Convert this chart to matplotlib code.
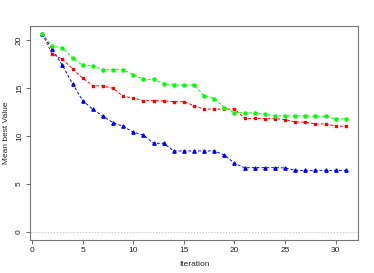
import numpy as np
import matplotlib.pyplot as plt

plt.rcParams['font.family'] = ['Liberation Sans', 'DejaVu Sans']

iteration = np.arange(1, 32)

blue = [20.65, 19.03, 17.36, 15.45, 13.68, 12.78, 12.05, 11.39, 11.0, 10.4,
        10.1, 9.24, 9.24, 8.44, 8.44, 8.44, 8.44, 8.44, 8.02, 7.15,
        6.7, 6.7, 6.7, 6.7, 6.68, 6.42, 6.42, 6.42, 6.42, 6.42, 6.42]
red = [20.65, 18.54, 17.99, 17.0, 16.04, 15.24, 15.2, 14.97, 14.13, 13.96,
       13.68, 13.68, 13.65, 13.57, 13.57, 13.16, 12.8, 12.8, 12.8, 12.8,
       11.84, 11.82, 11.8, 11.8, 11.7, 11.46, 11.43, 11.25, 11.25, 11.04, 11.0]
green = [20.65, 19.34, 19.2, 18.1, 17.36, 17.3, 16.9, 16.9, 16.9, 16.4,
         15.9, 15.9, 15.45, 15.3, 15.3, 15.3, 14.2, 13.9, 12.95, 12.43,
         12.43, 12.4, 12.26, 12.1, 12.1, 12.1, 12.1, 12.05, 12.05, 11.77, 11.77]

fig = plt.figure(figsize=(3.74, 2.73), dpi=100)
ax = fig.add_axes([30 / 374, 33 / 273, 328 / 374, 214 / 273])

# zero reference line
ax.axhline(0, color='#bbbbbb', lw=0.6, ls=(0, (1.5, 2)))

ax.plot(iteration, blue, color='#0000ff', ls=(0, (3, 2)), lw=0.7,
        marker='^', markersize=2.4)
ax.plot(iteration, red, color='#ff0000', ls=(0, (3, 2)), lw=0.7,
        marker='s', markersize=2.0)
ax.plot(iteration, green, color='#00ff00', ls=(0, (3, 2)), lw=0.7,
        marker='o', markersize=2.2)

ax.set_xlim(-0.2, 32.2)
ax.set_ylim(-0.83, 21.45)
ax.set_xticks([0, 5, 10, 15, 20, 25, 30])
ax.set_yticks([0, 5, 10, 15, 20])
ax.tick_params(labelsize=6, length=3, width=0.6, color='#555555',
               labelcolor='#222222', pad=2)
plt.setp(ax.get_yticklabels(), rotation=90, va='center')
for s in ax.spines.values():
    s.set_color('#777777')
    s.set_linewidth(0.8)

ax.set_xlabel('Iteration', fontsize=6, color='#222222', labelpad=5)
ax.set_ylabel('Mean best Value', fontsize=6, color='#222222', labelpad=4)

fig.savefig('out.png', dpi=100)
